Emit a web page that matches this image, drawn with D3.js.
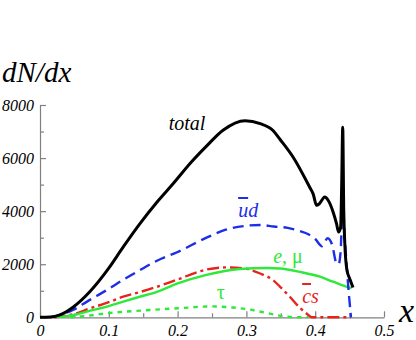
<!DOCTYPE html>
<html>
<head>
<meta charset="utf-8">
<script src="https://cdn.jsdelivr.net/npm/d3@7"></script>
</head>
<body style="margin:0">
<svg width="416" height="340"></svg>
<script>
// data: x fraction vs dN/dx
var totalX   = [0, 0.015, 0.029, 0.048, 0.073, 0.1, 0.121, 0.145, 0.172, 0.194, 0.22, 0.242, 0.266, 0.298, 0.32, 0.339, 0.349, 0.368, 0.392, 0.397, 0.402, 0.406, 0.414, 0.419, 0.426, 0.431, 0.434, 0.437, 0.4385, 0.44, 0.4415, 0.443, 0.446, 0.451, 0.455];
var totalY   = [0, 10, 90, 380, 980, 1850, 2650, 3520, 4400, 5050, 5850, 6450, 7050, 7410, 7300, 7030, 6700, 6030, 4900, 4650, 4220, 4280, 4530, 4400, 3970, 3530, 3215, 3400, 5000, 7160, 4000, 2800, 1800, 1400, 1120];

var udX      = [0.015, 0.03, 0.048, 0.07, 0.097, 0.12, 0.145, 0.17, 0.2, 0.242, 0.27, 0.3, 0.32, 0.34, 0.36, 0.378, 0.39, 0.4, 0.41, 0.418, 0.425, 0.43, 0.434, 0.437, 0.44, 0.443, 0.447, 0.452];
var udY      = [0, 100, 275, 620, 1025, 1400, 1775, 2130, 2460, 3000, 3300, 3450, 3480, 3420, 3370, 3250, 3130, 2950, 2680, 2980, 2700, 2100, 2000, 2500, 4300, 3000, 1500, 0];

var leptX    = [0.024, 0.05, 0.073, 0.1, 0.121, 0.145, 0.17, 0.2, 0.242, 0.29, 0.33, 0.349, 0.378, 0.407, 0.426, 0.446, 0.453];
var leptY    = [0, 90, 250, 420, 590, 775, 960, 1275, 1600, 1820, 1860, 1840, 1710, 1530, 1340, 1150, 1100];

var csX      = [0.02, 0.05, 0.073, 0.097, 0.121, 0.145, 0.17, 0.2, 0.242, 0.27, 0.295, 0.32, 0.339, 0.349, 0.363, 0.378, 0.39, 0.395, 0.42, 0.452];
var csY      = [0, 130, 340, 540, 775, 950, 1150, 1425, 1800, 1880, 1850, 1650, 1400, 1150, 775, 350, 90, 0, 0, 0];

var tauX     = [0.044, 0.07, 0.097, 0.145, 0.2, 0.25, 0.28, 0.305, 0.33, 0.354, 0.37, 0.39];
var tauY     = [0, 60, 150, 250, 340, 410, 370, 290, 160, 40, 0, 0];

var xTicks = [0, 0.1, 0.2, 0.3, 0.4, 0.5];
var xMinor = [0.05, 0.15, 0.25, 0.35, 0.45];
var yTicks = [0, 2000, 4000, 6000, 8000];
var yMinor = [1000, 3000, 5000, 7000];

var FONT = "'Liberation Serif'";

var svg = d3.select("svg");

var x = d3.scaleLinear().domain([0, 0.5]).range([40, 384]);
var y = d3.scaleLinear().domain([0, 8000]).range([317.3, 105]);

// axes (ticks point into the plot)
var fmtX = function(d) { return d === 0 ? "0" : d3.format(".1f")(d); };

function styleAxis(g) {
  g.attr("font-family", null).attr("font-size", null);
  g.selectAll("path, line").attr("stroke", "#808080").attr("stroke-width", 1.2);
  g.selectAll("text")
    .attr("fill", "#000")
    .style("font-family", FONT)
    .style("font-style", "italic")
    .style("font-size", "16px");
}

var xMinorAxis = svg.append("g")
    .attr("transform", "translate(0," + y(0) + ")")
    .call(d3.axisTop(x).tickValues(xMinor).tickSize(4).tickFormat(""));
xMinorAxis.select(".domain").remove();
styleAxis(xMinorAxis);

var xAxis = svg.append("g")
    .attr("transform", "translate(0," + y(0) + ")")
    .call(d3.axisTop(x).tickValues(xTicks).tickSizeInner(6).tickSizeOuter(0).tickFormat(fmtX));
xAxis.selectAll("text").attr("y", 7).attr("dy", "0.71em");
styleAxis(xAxis);

var yMinorAxis = svg.append("g")
    .attr("transform", "translate(" + x(0) + ",0)")
    .call(d3.axisRight(y).tickValues(yMinor).tickSize(4).tickFormat(""));
yMinorAxis.select(".domain").remove();
styleAxis(yMinorAxis);

var yAxis = svg.append("g")
    .attr("transform", "translate(" + x(0) + ",0)")
    .call(d3.axisRight(y).tickValues(yTicks).tickSizeInner(6).tickSizeOuter(0).tickFormat(d3.format("d")));
yAxis.selectAll("text").attr("x", -6).attr("dy", "0.32em").attr("text-anchor", "end");
styleAxis(yAxis);

// curves
var line = d3.line()
    .x(function(d) { return x(d[0]); })
    .y(function(d) { return y(d[1]); })
    .curve(d3.curveMonotoneX);

function pts(xs, ys) { return xs.map(function(v, i) { return [v, ys[i]]; }); }

var curves = [
  {xs: tauX,   ys: tauY,   color: "#2ee83a", w: 2.4, dash: "4.5,5"},
  {xs: csX,    ys: csY,    color: "#e8231c", w: 2.4, dash: "12,4,3,4"},
  {xs: leptX,  ys: leptY,  color: "#2ee83a", w: 2.4, dash: null},
  {xs: udX,    ys: udY,    color: "#1d2ee8", w: 2.4, dash: "11,6"},
  {xs: totalX, ys: totalY, color: "#000000", w: 3, dash: null}
];

svg.append("g").selectAll("path")
    .data(curves)
    .enter()
    .append("path")
    .attr("fill", "none")
    .attr("stroke-linejoin", "round")
    .attr("d", function(d) { return line(pts(d.xs, d.ys)); })
    .attr("stroke", function(d) { return d.color; })
    .attr("stroke-width", function(d) { return d.w; })
    .attr("stroke-dasharray", function(d) { return d.dash; });

// axis titles
function label(px, py, size, color) {
  return svg.append("text").attr("x", px).attr("y", py)
    .attr("fill", color)
    .style("font-family", FONT)
    .style("font-size", size + "px");
}

label(2, 82, 29, "#000").style("font-style", "italic").text("dN/dx");
label(399, 322, 34, "#000").style("font-style", "italic").text("x");

// curve labels
label(x(0.187), 130, 20, "#000").style("font-style", "italic").text("total");

var ud = label(x(0.288), 217, 20, "#1d2ee8");
ud.append("tspan").style("font-style", "italic").style("text-decoration", "overline").text("u");
ud.append("tspan").style("font-style", "italic").text("d");

var em = label(x(0.339), 263, 20, "#2ee83a");
em.append("tspan").style("font-style", "italic").text("e");
em.append("tspan").text(", \u03bc");

var cs = label(x(0.381), 303, 20, "#e8231c");
cs.append("tspan").style("font-style", "italic").style("text-decoration", "overline").text("c");
cs.append("tspan").style("font-style", "italic").text("s");

label(x(0.257), 299, 20, "#2ee83a").text("\u03c4");
</script>
</body>
</html>
